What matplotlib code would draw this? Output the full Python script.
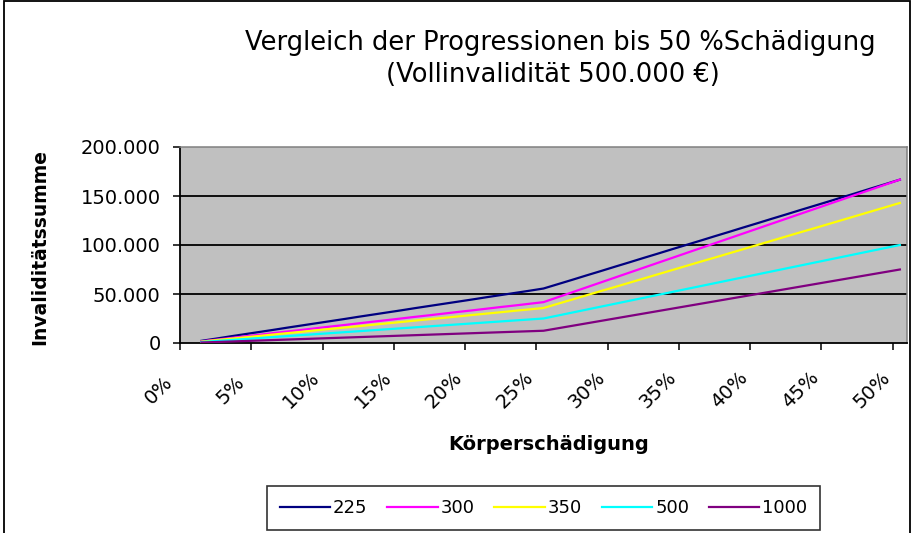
import matplotlib
matplotlib.use("Agg")
import matplotlib.pyplot as plt
import matplotlib.transforms as mtransforms
import numpy as np
from matplotlib.patches import Rectangle
from matplotlib.ticker import FuncFormatter

plt.rcParams['font.family'] = ['DejaVu Sans']

nan = np.nan

# Körperschädigung in %, 0 .. 50
percent = list(range(0, 51))

# Invaliditätssumme in Euro je Progression (0 % ohne Wert)
prog_225 = [nan,
            2200, 4400, 6700, 8900, 11100, 13300, 15600, 17800, 20000, 22200,
            24400, 26700, 28900, 31100, 33300, 35600, 37800, 40000, 42200, 44400,
            46700, 48900, 51100, 53300, 55600, 60000, 64400, 68900, 73300, 77800,
            82200, 86700, 91100, 95600, 100000, 104400, 108900, 113300, 117800, 122200,
            126700, 131100, 135600, 140000, 144400, 148900, 153300, 157800, 162200, 166700]
prog_300 = [nan,
            1700, 3300, 5000, 6700, 8300, 10000, 11700, 13300, 15000, 16700,
            18300, 20000, 21700, 23300, 25000, 26700, 28300, 30000, 31700, 33300,
            35000, 36700, 38300, 40000, 41700, 46700, 51700, 56700, 61700, 66700,
            71700, 76700, 81700, 86700, 91700, 96700, 101700, 106700, 111700, 116700,
            121700, 126700, 131700, 136700, 141700, 146700, 151700, 156700, 161700, 166700]
prog_350 = [nan,
            1400, 2900, 4300, 5700, 7100, 8600, 10000, 11400, 12900, 14300,
            15700, 17100, 18600, 20000, 21400, 22900, 24300, 25700, 27100, 28600,
            30000, 31400, 32900, 34300, 35700, 40000, 44300, 48600, 52900, 57100,
            61400, 65700, 70000, 74300, 78600, 82900, 87100, 91400, 95700, 100000,
            104300, 108600, 112900, 117100, 121400, 125700, 130000, 134300, 138600, 142900]
prog_500 = [nan,
            1000, 2000, 3000, 4000, 5000, 6000, 7000, 8000, 9000, 10000,
            11000, 12000, 13000, 14000, 15000, 16000, 17000, 18000, 19000, 20000,
            21000, 22000, 23000, 24000, 25000, 28000, 31000, 34000, 37000, 40000,
            43000, 46000, 49000, 52000, 55000, 58000, 61000, 64000, 67000, 70000,
            73000, 76000, 79000, 82000, 85000, 88000, 91000, 94000, 97000, 100000]
prog_1000 = [nan,
             500, 1000, 1500, 2000, 2500, 3000, 3500, 4000, 4500, 5000,
             5500, 6000, 6500, 7000, 7500, 8000, 8500, 9000, 9500, 10000,
             10500, 11000, 11500, 12000, 12500, 15000, 17500, 20000, 22500, 25000,
             27500, 30000, 32500, 35000, 37500, 40000, 42500, 45000, 47500, 50000,
             52500, 55000, 57500, 60000, 62500, 65000, 67500, 70000, 72500, 75000]

series_names = ["225", "300", "350", "500", "1000"]
series_colors = ["#000080", "#FF00FF", "#FFFF00", "#00FFFF", "#800080"]
tick_percent = [0, 5, 10, 15, 20, 25, 30, 35, 40, 45, 50]
y_ticks = [0, 50000, 100000, 150000, 200000]

W, H = 913, 533
fig = plt.figure(figsize=(W / 100, H / 100), dpi=100)
fig.patch.set_facecolor('white')

# Plotbereich (Pixel: links 180, rechts 907, oben 147, unten 343)
ax = fig.add_axes([180 / W, 1 - 343 / H, 727 / W, 196 / H])
ax.set_facecolor('#C0C0C0')

x = np.array(percent) + 0.5
for vals, name, col in zip([prog_225, prog_300, prog_350, prog_500, prog_1000],
                           series_names, series_colors):
    ax.plot(x, vals, color=col, lw=1.6, label=name, zorder=3)

ax.set_xlim(0, 51)
ax.set_ylim(0, 200000)

for yv in y_ticks[1:-1]:
    ax.axhline(yv, color='black', lw=1.3, zorder=2)

ax.set_yticks(y_ticks)
ax.yaxis.set_major_formatter(FuncFormatter(lambda v, p: f"{v:,.0f}".replace(",", ".")))

ax.set_xticks(range(0, 51, 5))
ax.set_xticklabels([])
ax.tick_params(axis='both', which='major', length=5, width=1.1, color='black',
               direction='out', labelsize=14, pad=9)

# gedrehte Kategorienbeschriftung wie in Excel (links unterhalb der Kategorie)
offset = mtransforms.ScaledTranslation(-28 / 100, -47 / 100, fig.dpi_scale_trans)
label_trans = ax.get_xaxis_transform() + offset
for p in tick_percent:
    ax.text(p + 0.5, 0, f"{p}%", transform=label_trans, rotation=45,
            rotation_mode='anchor', ha='center', va='center', fontsize=14,
            clip_on=False)

for side in ['left', 'bottom']:
    ax.spines[side].set_color('black')
    ax.spines[side].set_linewidth(1.3)
for side in ['top', 'right']:
    ax.spines[side].set_color('#808080')
    ax.spines[side].set_linewidth(1.1)

fig.text(560 / W, 1 - 43 / H, "Vergleich der Progressionen bis 50 %Schädigung",
         ha='center', va='center', fontsize=18.5)
fig.text(553 / W, 1 - 75 / H, "(Vollinvalidität 500.000 €)",
         ha='center', va='center', fontsize=18.5)

fig.text(40 / W, 1 - 247 / H, "Invaliditätssumme", rotation=90,
         ha='center', va='center', fontsize=13.5, fontweight='bold')
fig.text(549 / W, 1 - 444 / H, "Körperschädigung",
         ha='center', va='center', fontsize=14, fontweight='bold')

leg = fig.legend(loc='center', bbox_to_anchor=(543.5 / W, 1 - 508 / H),
                 bbox_transform=fig.transFigure, ncol=5, fontsize=13,
                 frameon=True, fancybox=False, edgecolor='black',
                 handlelength=2.8, handletextpad=0.15, columnspacing=1.1,
                 borderpad=0.7)
leg.get_frame().set_linewidth(1.2)

fig.patches.append(Rectangle((3.5 / W, -0.02), (910 - 3.5) / W, 1 - 1.5 / H + 0.02,
                             transform=fig.transFigure, fill=False,
                             edgecolor='black', lw=1.3))

fig.savefig("out.png", dpi=100)
